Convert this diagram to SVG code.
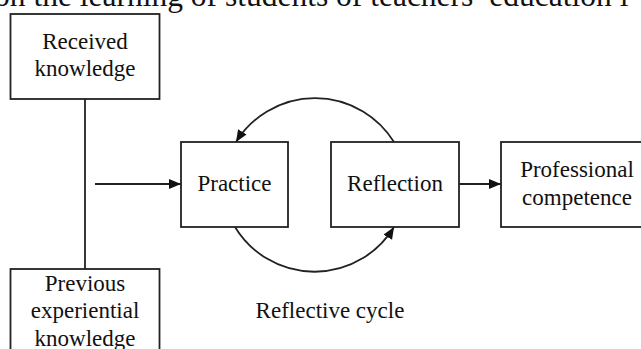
<svg xmlns="http://www.w3.org/2000/svg" width="641" height="349" viewBox="0 0 641 349">
<style>
  .box{fill:#fff;stroke:#222;stroke-width:1.8}
  .ln{fill:none;stroke:#222;stroke-width:1.8}
  .t{font-family:"Liberation Serif","Times New Roman",serif;font-size:23px;fill:#111;text-anchor:middle}
  .cap{font-family:"Liberation Serif","Times New Roman",serif;font-size:31.5px;fill:#111}
</style>
<defs>
  <marker id="ah" markerUnits="userSpaceOnUse" markerWidth="13" markerHeight="11" refX="12" refY="5" orient="auto">
    <path d="M0,0 L12,5 L0,10 z" fill="#111"/>
  </marker>
</defs>
<rect width="641" height="349" fill="#fff"/>
<text class="cap" x="-6" y="6">on the learning of students of teachers’ education i</text>

<g id="connectors">
  <line class="ln" x1="85" y1="99" x2="85" y2="269"/>
  <line class="ln" x1="95" y1="184" x2="181" y2="184" marker-end="url(#ah)"/>
  <line class="ln" x1="459" y1="184" x2="501" y2="184" marker-end="url(#ah)"/>
  <path class="ln" d="M394,142 A93,93 0 0 0 236,142" marker-end="url(#ah)"/>
  <path class="ln" d="M235,227 A93,93 0 0 0 394,227" marker-end="url(#ah)"/>
</g>

<g id="received">
  <rect class="box" x="10.5" y="14" width="149" height="85"/>
  <text class="t" x="85" y="49">Received</text>
  <text class="t" x="85" y="76">knowledge</text>
</g>
<g id="previous">
  <rect class="box" x="10.5" y="269" width="149" height="95"/>
  <text class="t" x="85" y="291">Previous</text>
  <text class="t" x="85" y="318">experiential</text>
  <text class="t" x="85" y="346">knowledge</text>
</g>
<g id="practice">
  <rect class="box" x="181" y="142" width="107" height="85"/>
  <text class="t" x="234.5" y="191">Practice</text>
</g>
<g id="reflection">
  <rect class="box" x="331" y="142" width="128" height="85"/>
  <text class="t" x="395" y="191">Reflection</text>
</g>
<g id="professional">
  <rect class="box" x="501" y="142" width="160" height="85"/>
  <text class="t" x="577" y="177">Professional</text>
  <text class="t" x="577" y="205">competence</text>
</g>
<g id="cycle-label">
  <text class="t" x="330" y="318">Reflective cycle</text>
</g>
</svg>
